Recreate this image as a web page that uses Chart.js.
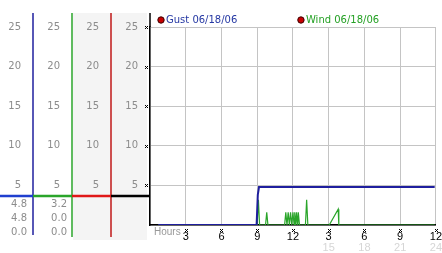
<!DOCTYPE html>
<html>
<head>
<meta charset="utf-8">
<script src="https://cdn.jsdelivr.net/npm/chart.js@4.4.1/dist/chart.umd.min.js"></script>
<style>
  html, body { margin: 0; padding: 0; background: #fff; }
  #wrap { width: 442px; height: 253px; }
</style>
</head>
<body>
<div id="wrap"><canvas id="wind-chart" width="442" height="253"></canvas></div>
<script>
// Gust / wind speed over the day

const seriesLabels = ['Gust 06/18/06', 'Wind 06/18/06'];

const gustHours = [0.7, 8.95, 9.05, 9.15, 23.9];
const gustSpeed = [0, 0, 3.8, 4.8, 4.8];

const windHours = [0.7, 9.0, 9.1, 9.2, 9.7, 9.8, 9.9,
    11.3, 11.4, 11.5, 11.6, 11.7, 11.8, 11.9, 12.0, 12.1, 12.15, 12.25, 12.3, 12.4, 12.45, 12.55,
    13.05, 13.15, 13.25, 15.05, 15.8, 15.85, 23.9];
const windSpeed = [0, 0, 3.2, 0, 0, 1.6, 0,
    0, 1.6, 0, 1.6, 0, 1.6, 0, 1.6, 0, 1.6, 0, 1.6, 0, 1.6, 0,
    0, 3.2, 0, 0, 2.0, 0, 0];

// stats under the left scales (current / max / min ?)
const gustStats = [4.8, 4.8, 0.0];
const windStats = [3.2, 0.0, 0.0];

const yTickStep = 5;
const hourStep = 3;

const colors = {
    gust: '#1f1f9e',
    wind: '#2aa52a',
    gustText: '#2437a3',
    windText: '#24a024',
    grid: '#c4c4c4',
    label: '#8c8c8c'
};

Chart.defaults.font.family = 'DejaVu Sans';
Chart.defaults.font.size = 10;

function hourLabel(v) {
    if (v === 0) return '';
    const h = v % 12;
    return String(h === 0 ? 12 : h);
}

function sideLabel(v) {
    return v === 0 ? '' : String(v);
}

// one of the extra scale columns on the left
function sideScale(weight, width) {
    return {
        position: 'left',
        weight: weight,
        min: 0,
        max: 25,
        ticks: { stepSize: yTickStep, color: colors.label, padding: 12, callback: sideLabel },
        grid: { display: false, drawTicks: false },
        border: { display: false },
        afterFit: s => { s.width = width; }
    };
}

function mark(ctx, x, y) {
    ctx.fillRect(x - 1, y - 1, 1, 1);
    ctx.fillRect(x + 1, y - 1, 1, 1);
    ctx.fillRect(x, y, 1, 1);
    ctx.fillRect(x - 1, y + 1, 1, 1);
    ctx.fillRect(x + 1, y + 1, 1, 1);
}

const panelDecor = {
    id: 'panelDecor',
    beforeDraw(chart) {
        const { ctx, chartArea, scales } = chart;
        ctx.save();
        ctx.fillStyle = '#f4f4f4';
        ctx.fillRect(scales.yRed.left + 1, chartArea.top - 14, scales.y.right - scales.yRed.left - 4, chartArea.bottom - chartArea.top + 29);
        ctx.restore();
    },
    afterDraw(chart) {
        const { ctx, chartArea, scales } = chart;
        const top = chartArea.top - 14;
        ctx.save();

        // coloured column rules
        const rules = [
            [scales.yGust.right, colors.gust, chartArea.bottom + 10],
            [scales.yWind.right, colors.wind, chartArea.bottom + 12],
            [scales.yRed.right, '#c01818', chartArea.bottom + 12]
        ];
        ctx.lineWidth = 1.5;
        rules.forEach(([x, c, bottom]) => {
            ctx.strokeStyle = c;
            ctx.beginPath();
            ctx.moveTo(x, top);
            ctx.lineTo(x, bottom);
            ctx.stroke();
        });
        ctx.strokeStyle = '#000';
        ctx.beginPath();
        ctx.moveTo(chartArea.left, top);
        ctx.lineTo(chartArea.left, chartArea.top);
        ctx.stroke();

        // band under the scale labels
        const bandY = chartArea.bottom - 29;
        ctx.lineWidth = 2.5;
        const bands = [
            [0, scales.yGust.right, '#1f3fcf'],
            [scales.yGust.right, scales.yWind.right, '#2aa52a'],
            [scales.yWind.right, scales.yRed.right, '#e01818'],
            [scales.yRed.right, chartArea.left, '#000']
        ];
        bands.forEach(([a, b, c]) => {
            ctx.strokeStyle = c;
            ctx.beginPath();
            ctx.moveTo(a, bandY);
            ctx.lineTo(b, bandY);
            ctx.stroke();
        });

        // stats rows
        ctx.fillStyle = colors.label;
        ctx.font = '10px "DejaVu Sans"';
        ctx.textAlign = 'right';
        ctx.textBaseline = 'middle';
        gustStats.forEach((v, i) => ctx.fillText(v.toFixed(1), scales.yGust.right - 6, bandY + 8 + i * 14));
        windStats.forEach((v, i) => ctx.fillText(v.toFixed(1), scales.yWind.right - 5, bandY + 8 + i * 14));

        // tick marks
        ctx.fillStyle = '#000';
        scales.y.ticks.forEach((t, i) => {
            if (t.value === 0) return;
            mark(ctx, Math.round(chartArea.left) - 4, Math.round(scales.y.getPixelForTick(i)));
        });
        scales.x.ticks.forEach((t, i) => {
            if (t.value === 0) return;
            mark(ctx, Math.round(scales.x.getPixelForTick(i)), Math.round(chartArea.bottom) + 5);
        });

        // axis name
        ctx.fillStyle = '#999';
        ctx.font = '10px "Liberation Sans"';
        ctx.textAlign = 'left';
        ctx.fillText('Hours', chartArea.left + 4, chartArea.bottom + 7);

        // legend
        const legendY = chartArea.top - 7;
        const items = [
            [chartArea.left + 11, seriesLabels[0], colors.gustText],
            [(chartArea.left + chartArea.right) / 2 + 8, seriesLabels[1], colors.windText]
        ];
        ctx.font = '10px "DejaVu Sans"';
        items.forEach(([x, text, c]) => {
            ctx.beginPath();
            ctx.arc(x, legendY, 3.2, 0, Math.PI * 2);
            ctx.fillStyle = '#c80000';
            ctx.fill();
            ctx.lineWidth = 1;
            ctx.strokeStyle = '#3a0000';
            ctx.stroke();
            ctx.fillStyle = c;
            ctx.fillText(text, x + 5, legendY);
        });

        ctx.restore();
    }
};

const canvas = document.getElementById('wind-chart');

new Chart(canvas, {
    type: 'line',
    data: {
        datasets: [
            {
                label: seriesLabels[0],
                data: gustHours.map((h, i) => ({ x: h, y: gustSpeed[i] })),
                borderColor: colors.gust,
                borderWidth: 2,
                pointRadius: 0,
                tension: 0,
                xAxisID: 'x',
                yAxisID: 'y'
            },
            {
                label: seriesLabels[1],
                data: windHours.map((h, i) => ({ x: h, y: windSpeed[i] })),
                borderColor: colors.wind,
                borderWidth: 1.2,
                pointRadius: 0,
                tension: 0,
                xAxisID: 'x',
                yAxisID: 'y'
            }
        ]
    },
    options: {
        responsive: false,
        animation: false,
        devicePixelRatio: 1,
        layout: { padding: { top: 27, right: 4, left: 0, bottom: 0 } },
        plugins: {
            legend: { display: false },
            tooltip: { enabled: false }
        },
        scales: {
            x: {
                type: 'linear',
                position: 'bottom',
                weight: 0,
                min: 0,
                max: 24,
                ticks: {
                    stepSize: hourStep,
                    color: '#000',
                    padding: 0,
                    maxRotation: 0,
                    font: { family: 'Liberation Sans', size: 11 },
                    callback: hourLabel
                },
                grid: { color: colors.grid, drawTicks: true, tickLength: 5, tickColor: 'rgba(0,0,0,0)' },
                border: { color: '#000', width: 1.5 },
                afterFit: s => { s.height = 16; }
            },
            x2: {
                type: 'linear',
                position: 'bottom',
                weight: 1,
                min: 0,
                max: 24,
                ticks: {
                    stepSize: hourStep,
                    color: '#d6d6d6',
                    padding: 0,
                    maxRotation: 0,
                    font: { family: 'Liberation Sans', size: 11 },
                    callback: v => (v > 12 ? String(v) : '')
                },
                grid: { display: false, drawTicks: false },
                border: { display: false },
                afterFit: s => { s.height = 12; }
            },
            y: {
                position: 'left',
                weight: 0,
                min: 0,
                max: 25,
                ticks: { stepSize: yTickStep, color: colors.label, padding: 12, callback: sideLabel },
                grid: { color: colors.grid, drawTicks: false },
                border: { color: '#000', width: 1.5 },
                afterFit: s => { s.width = 39; }
            },
            yRed: sideScale(1, 39),
            yWind: sideScale(2, 39),
            yGust: sideScale(3, 33)
        }
    },
    plugins: [panelDecor]
});
</script>
</body>
</html>
